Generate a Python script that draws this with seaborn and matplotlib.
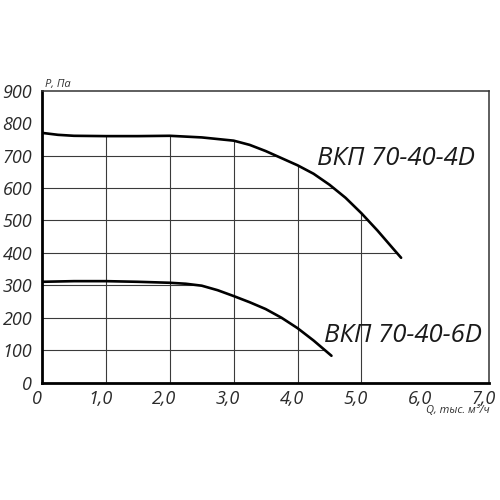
import numpy as np
import pandas as pd
import matplotlib
matplotlib.use("Agg")
import matplotlib.pyplot as plt
import matplotlib.transforms as mtransforms
from matplotlib.patches import Polygon
import seaborn as sns

# curve data
q_4d = [0, 0.25, 0.5, 1.0, 1.5, 2.0, 2.5, 3.0, 3.25, 3.5, 3.75, 4.0, 4.25, 4.5, 4.75, 5.0, 5.25, 5.5, 5.62]
p_4d = [770, 764, 761, 760, 760, 761, 756, 746, 733, 714, 692, 670, 644, 610, 570, 522, 469, 412, 385]

q_6d = [0, 0.5, 1.0, 1.5, 2.0, 2.25, 2.5, 2.75, 3.0, 3.25, 3.5, 3.75, 4.0, 4.25, 4.53]
p_6d = [311, 313, 313, 311, 308, 305, 299, 285, 267, 248, 227, 200, 168, 130, 83]

x_ticks = [0, 1, 2, 3, 4, 5, 6, 7]
x_labels = ["0", "1,0", "2,0", "3,0", "4,0", "5,0", "6,0", "7,0"]
y_ticks = [0, 100, 200, 300, 400, 500, 600, 700, 800, 900]
grid_low = [100, 200, 300]
grid_high = [400, 500, 600, 700]
grid_x = [1, 2, 3, 4, 5]

label_4d = "ВКП 70-40-4D"
label_6d = "ВКП 70-40-6D"

sns.set_style("white")
plt.rcParams["font.family"] = ["Open Sans", "DejaVu Sans"]
plt.rcParams["font.style"] = "italic"

fig = plt.figure(figsize=(5, 5), dpi=100)
ax = fig.add_axes([0.084, 0.2346, 0.8946, 0.584])

df4 = pd.DataFrame({"Q": q_4d, "P": p_4d})
df6 = pd.DataFrame({"Q": q_6d, "P": p_6d})

# grid only under the curves: clip to area below them
poly4 = Polygon(list(zip(q_4d, p_4d)) + [(q_4d[-1], 0), (0, 0)], closed=True,
                transform=ax.transData, facecolor="none", edgecolor="none")
poly6 = Polygon(list(zip(q_6d, p_6d)) + [(q_6d[-1], 0), (0, 0)], closed=True,
                transform=ax.transData, facecolor="none", edgecolor="none")
ax.add_patch(poly4)
ax.add_patch(poly6)

gc = "#3a3a3a"
vl = ax.vlines(grid_x, 0, 900, color=gc, lw=0.8)
vl.set_clip_path(poly4)
hl = ax.hlines(grid_high, 0, 7, color=gc, lw=0.8)
hl.set_clip_path(poly4)
hl2 = ax.hlines(grid_low, 0, 7, color=gc, lw=0.8)
hl2.set_clip_path(poly6)

sns.lineplot(data=df4, x="Q", y="P", color="black", lw=1.9, ax=ax, sort=False)
sns.lineplot(data=df6, x="Q", y="P", color="black", lw=1.9, ax=ax, sort=False)

ax.set_xlim(0, 7)
ax.set_ylim(0, 900)
ax.set_xticks(x_ticks)
ax.set_xticklabels(x_labels)
ax.set_yticks(y_ticks)
ax.set_xlabel("")
ax.set_ylabel("")
ax.tick_params(direction="in", length=3, width=0.9, color="black",
               labelsize=13, labelcolor="#2a2a2a")
ax.tick_params(axis="y", pad=7)
ax.tick_params(axis="x", pad=5)

# italic labels sit a bit left of their ticks in the original
shift = mtransforms.ScaledTranslation(-4 / 72, 0, fig.dpi_scale_trans)
for lab in ax.get_xticklabels():
    lab.set_transform(lab.get_transform() + shift)

for side in ["top", "right"]:
    ax.spines[side].set_linewidth(1.1)
    ax.spines[side].set_color("#333333")
for side in ["left", "bottom"]:
    ax.spines[side].set_linewidth(2.0)
    ax.spines[side].set_color("black")

ax.text(0.05, 902, "P, Па", fontsize=8, ha="left", va="bottom", color="#333333")
ax.text(7, -70, "Q, тыс. м³/ч", fontsize=8, ha="right", va="top", color="#333333")

ax.text(4.3, 671, label_4d, fontsize=18.5, ha="left", va="baseline", color="#1a1a1a")
ax.text(4.42, 125, label_6d, fontsize=18.5, ha="left", va="baseline", color="#1a1a1a")

fig.savefig("out.png", dpi=100)
